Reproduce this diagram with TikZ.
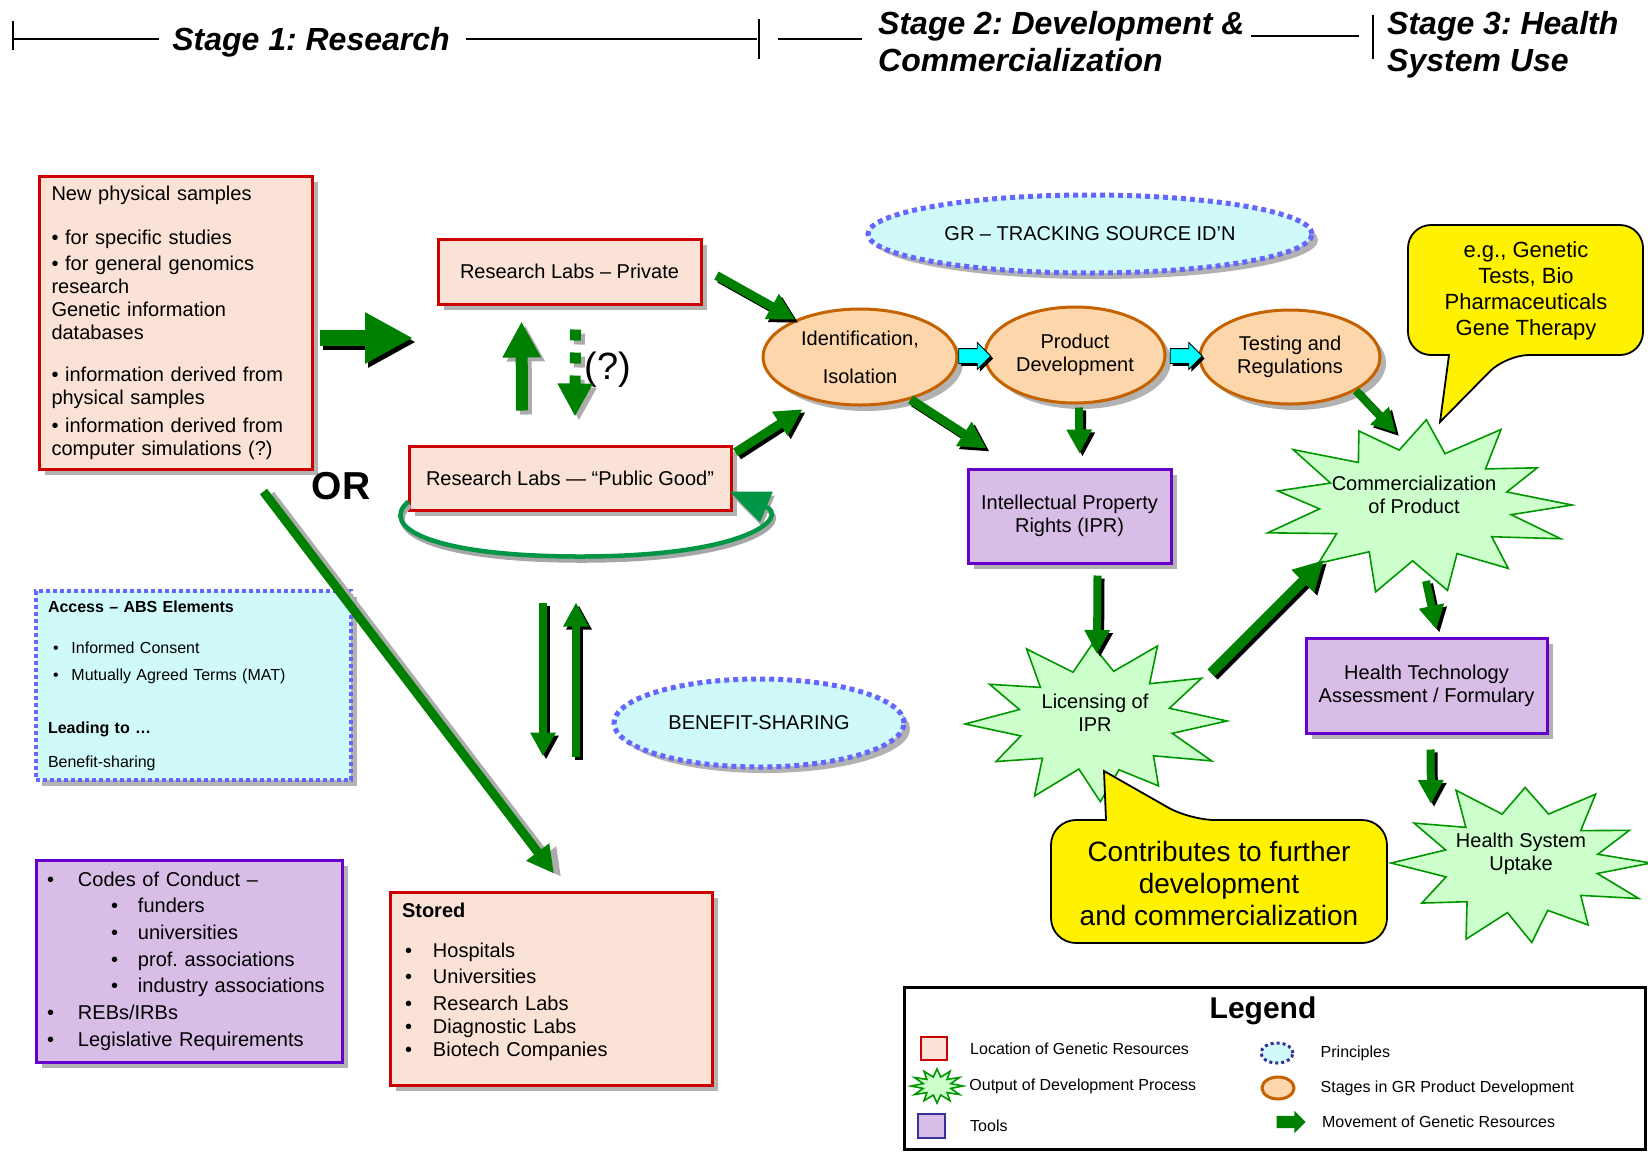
\documentclass[tikz,border=0pt]{standalone}
\usepackage{fontspec}
\setmainfont{Liberation Sans}
\usetikzlibrary{arrows.meta,calc,positioning,shapes.geometric,shapes.arrows,shadows}
\frenchspacing

\definecolor{locred}{RGB}{204,0,0}
\definecolor{locfill}{RGB}{250,226,214}
\definecolor{toolline}{RGB}{102,0,204}
\definecolor{toolfill}{RGB}{216,190,230}
\definecolor{princline}{RGB}{102,102,255}
\definecolor{princfill}{RGB}{208,250,250}
\definecolor{stageline}{RGB}{196,98,0}
\definecolor{stagefill}{RGB}{253,214,172}
\definecolor{burstline}{RGB}{0,150,0}
\definecolor{burstfill}{RGB}{204,255,204}
\definecolor{movegreen}{RGB}{0,128,0}
\definecolor{loopgreen}{RGB}{0,150,70}
\definecolor{legblue}{RGB}{51,51,153}
\definecolor{arrowcyan}{RGB}{0,255,255}

\newcommand{\fsize}[2]{\fontsize{#1}{#2}\selectfont}
\newcommand{\bul}[2]{\hspace*{#1}\makebox[#2][l]{\textbullet}}
% star outline round a centre: rx, ry, angle/fraction list
\newcommand{\outburst}[4]{%
  \draw[burst] ($(#1)+(0:{#2*1pt} and {#3*1pt})$)
    \foreach \a/\f in {#4}{ -- ($(#1)+(\a:{(#2*\f)*1pt} and {(#3*\f)*1pt})$)} -- cycle;}
% arrow with its shadow: style, shadow colour, x shift, y shift, path
\newcommand{\mvdraw}[5]{%
  \begin{scope}[transform canvas={shift={(#3,#4)}}]\draw[#1,draw=#2] #5;\end{scope}
  \draw[#1] #5;}

\tikzset{
  boxshadow/.style={drop shadow={shadow xshift=6pt,shadow yshift=-6pt,fill=gray!60,opacity=1}},
  locbox/.style={draw=locred,fill=locfill,line width=3pt,boxshadow,inner sep=0pt,font=\fsize{20}{23}},
  toolbox/.style={draw=toolline,fill=toolfill,line width=3pt,boxshadow,inner sep=0pt,font=\fsize{20}{23}},
  stagebox/.style={ellipse,draw=stageline,fill=stagefill,line width=3pt,boxshadow,align=center,inner sep=0pt,font=\fsize{20}{23}},
  princbox/.style={draw=princline,fill=princfill,line width=5pt,dash pattern=on 5pt off 4pt,boxshadow,inner sep=0pt,font=\fsize{20}{23}},
  burst/.style={draw=burstline,fill=burstfill,line width=1.6pt},
  bursttext/.style={align=center,inner sep=0pt,font=\fsize{20}{23}},
  grmove/.style={draw=movegreen,line width=#1,-{Triangle[length=0pt 3,width=0pt 3]}},
  cyanmove/.style={single arrow,draw=black,fill=arrowcyan,line width=0.8pt,inner xsep=0pt,inner ysep=7pt,
    single arrow head extend=6pt,minimum height=32pt,
    drop shadow={shadow xshift=2.5pt,shadow yshift=-2.5pt,fill=black,opacity=1}},
  headtext/.style={font=\fsize{32}{37}\bfseries\itshape,inner sep=0pt},
  rule/.style={line width=1.5pt},
  note/.style={draw=black,fill=yellow,line width=1.8pt},
  legtext/.style={font=\fsize{16}{19},inner sep=0pt,anchor=west},
}

\begin{document}
\begin{tikzpicture}[x=1pt,y=-1pt]
\useasboundingbox (0,0) rectangle (1648,1152);

% stage headings
\coordinate (t1) at (13,39);
\coordinate (t2) at (759,39);
\coordinate (t3) at (1373,37);
\node[headtext] (s1) at (311,42) {Stage 1: Research};
\node[headtext,anchor=north west,align=left] (s2) at (878,11) {Stage 2: Development \&\\Commercialization};
\node[headtext,anchor=north west,align=left] (s3) at (1387,11) {Stage 3: Health\\System Use};
\draw[rule] ($(t1)+(0,-18)$) -- ($(t1)+(0,11)$);
\draw[rule] ($(t2)+(0,-20)$) -- ($(t2)+(0,20)$);
\draw[rule] ($(t3)+(0,-22)$) -- ($(t3)+(0,22)$);
\draw[rule] (t1) -- ($(s1.west |- t1)+(-13,0)$);
\draw[rule] ($(s1.east |- t1)+(16,0)$) -- ($(t2)+(-2,0)$);
\draw[rule] ($(t2)+(19,0)$) -- ($(s2.west |- t2)+(-16,0)$);
\draw[rule] ($(t3)+(-122,-1)$) -- ($(t3)+(-14,-1)$);

% locations of genetic resources
\node[locbox,text width=248pt,inner xsep=12.5pt,minimum height=293pt,align=left] (samples) at (175.5,322.5)
  {New physical samples\\[21pt]
   \textbullet{} for specific studies\\[3pt]
   \textbullet{} for general genomics\\
   research\\
   Genetic information\\
   databases\\[19pt]
   \textbullet{} information derived from\\
   physical samples\\[5pt]
   \textbullet{} information derived from\\
   computer simulations (?)};
\node[locbox,minimum width=263pt,minimum height=65pt] (priv) at (569.5,271.5) {Research Labs – Private};
\node[locbox,minimum width=322pt,minimum height=64pt] (pub) at (570,478) {Research Labs — “Public Good”};
\node[locbox,text width=298pt,inner xsep=12pt,minimum height=193pt,align=left] (stored) at (551,988.5)
  {\textbf{Stored}\\[17pt]
   \bul{3pt}{28pt}Hospitals\\[3pt]
   \bul{3pt}{28pt}Universities\\[4pt]
   \bul{3pt}{28pt}Research Labs\\
   \bul{3pt}{28pt}Diagnostic Labs\\
   \bul{3pt}{28pt}Biotech Companies\\[-5pt]
   \mbox{}};
\node[font=\fsize{39}{44}\bfseries,inner sep=0pt] (or) at (341,486) {OR};
\node[font=\fsize{38}{44},inner sep=0pt] (unsure) at (608,370) {(?)};

% principles
\node[princbox,line width=4pt,dash pattern=on 4pt off 3pt,text width=291pt,inner xsep=12pt,
  minimum height=189pt,align=left,font=\fsize{16}{19}] (access) at (193.5,685.5)
  {\textbf{Access – ABS Elements}\\[22pt]
   \bul{5pt}{18.5pt}Informed Consent\\[8pt]
   \bul{5pt}{18.5pt}Mutually Agreed Terms (MAT)\\[34pt]
   \textbf{Leading to …}\\[15pt]
   Benefit-sharing};
\node[princbox,ellipse,minimum width=444pt,minimum height=78pt] (track) at (1090,234) {GR – TRACKING SOURCE ID’N};
\node[princbox,ellipse,minimum width=290pt,minimum height=88pt] (benefit) at (759,723) {BENEFIT-SHARING};

% tools
\node[toolbox,text width=284pt,inner xsep=11pt,minimum height=202pt,align=left,font=\fsize{20}{26.7}] (codes) at (189,961)
  {\bul{0pt}{31pt}Codes of Conduct –\\
   \bul{64pt}{27pt}funders\\
   \bul{64pt}{27pt}universities\\
   \bul{64pt}{27pt}prof. associations\\
   \bul{64pt}{27pt}industry associations\\
   \bul{0pt}{31pt}REBs/IRBs\\
   \bul{0pt}{31pt}Legislative Requirements};
\node[toolbox,minimum width=203pt,minimum height=94pt,align=center] (ipr) at (1069.5,516) {Intellectual Property\\Rights (IPR)};
\node[toolbox,minimum width=241pt,minimum height=95pt,align=center] (hta) at (1426.5,685.5) {Health Technology\\Assessment / Formulary};

% stages in product development
\node[stagebox,minimum width=194pt,minimum height=96pt] (ident) at (860,357) {Identification,\\[15pt]Isolation};
\node[stagebox,minimum width=180pt,minimum height=96pt] (prod) at (1075,355) {Product\\Development};
\node[stagebox,minimum width=180pt,minimum height=94pt] (test) at (1290,357) {Testing and\\Regulations};
\node[cyanmove] (c1) at ($(ident.east)!0.5!(prod.west)$) {};
\node[cyanmove] (c2) at ($(prod.east)!0.5!(test.west)$) {};

% outputs
\coordinate (commc) at (1416,505);
\coordinate (licc) at (1096,721);
\coordinate (hsuc) at (1521,863);
\outburst{commc}{156}{90}{14/.6,28/.88,42/.6,57/1,72/.6,86/.95,100/.62,114/.9,128/.6,142/1,156/.6,170/.9,184/.62,198/1,212/.6,226/.9,240/.6,255/1,268/.62,282/.97,296/.6,310/.92,324/.6,338/1,350/.62}
\outburst{licc}{131}{85}{15/.58,32/.95,47/.6,62/1,77/.6,92/.9,107/.6,122/1,137/.58,152/.92,167/.6,182/1,197/.6,212/.9,227/.6,242/1,257/.58,272/.95,287/.6,302/.9,317/.6,332/1,346/.6}
\outburst{hsuc}{130}{84}{10/.6,25/.92,40/.6,55/1,70/.62,88/.9,104/.6,120/1,135/.6,150/.95,165/.6,180/1,196/.6,212/.9,228/.62,245/1,260/.6,275/.95,290/.6,305/.9,320/.6,335/1,348/.6}
\node[bursttext] (comm) at ($(commc)+(-2,-10)$) {Commercialization\\of Product};
\node[bursttext] (lic) at ($(licc)+(-1,-8)$) {Licensing of\\IPR};
\node[bursttext] (hsu) at ($(hsuc)+(0,-9)$) {Health System\\Uptake};

% call-outs
\draw[note] (1449,355) [rounded corners=23pt] -- (1408,355) -- (1408,225) -- (1643,225) -- (1643,355) -- (1506,355) [sharp corners] -- (1440,422) -- cycle;
\node[font=\fsize{22}{26},align=center,inner sep=0pt] (examples) at (1526,291) {e.g., Genetic\\Tests, Bio\\Pharmaceuticals\\Gene Therapy};
\draw[note] (1106,820) [rounded corners=25pt] -- (1051,820) -- (1051,943) -- (1387,943) -- (1387,820) -- (1190,820) [sharp corners] -- (1104,771) -- cycle;
\node[font=\fsize{28}{32},align=center,inner sep=0pt] (further) at (1219,883) {Contributes to further\\development\\and commercialization};

% movement of genetic resources
\coordinate (fork) at (413,338);
\mvdraw{grmove=16pt}{black}{3pt}{-4pt}{($(samples.east |- fork)+(6,0)$) -- (fork)}
\mvdraw{grmove=12pt}{gray!65}{4pt}{-4pt}{($(pub.north)+(-48,-34)$) -- ($(priv.south)+(-48,16)$)}
\mvdraw{grmove=11pt,dash pattern=on 11pt off 12pt}{gray!65}{4pt}{-4pt}{($(priv.south)+(6,24)$) -- ($(pub.north)+(5,-28)$)}
\mvdraw{grmove=9pt}{black}{3pt}{-3pt}{($(priv.east)+(14,4)$) -- (ident.150)}
\mvdraw{grmove=9pt}{black}{3pt}{-3pt}{($(pub.north east)+(3,8)$) -- ($(ident.215)+(0,12)$)}
\mvdraw{loopgreen,line width=4.5pt,-{Triangle[length=40pt,width=32pt]}}{gray!70}{2pt}{-4pt}
  {($(pub.south west)+(1,-10)$) .. controls +(-30,25) and +(-150,0) .. ($(pub.south)+(10,45)$)
  .. controls +(170,0) and +(60,25) .. ($(pub.south east)+(-3,-20)$)}
\mvdraw{grmove=8pt}{black}{3pt}{-3pt}{($(pub.south)+(-27,91)$) -- ($(pub.south)+(-27,245)$)}
\mvdraw{grmove=8pt}{black}{3pt}{-3pt}{($(pub.south)+(6,245)$) -- ($(pub.south)+(6,91)$)}
\mvdraw{grmove=9pt}{gray!65}{7pt}{-3pt}{($(samples.south)+(88,21)$) -- ($(stored.north)+(3,-17)$)}
\mvdraw{grmove=9pt}{black}{3pt}{-3pt}{(ident.320) -- ($(ipr.north west)+(20,-19)$)}
\mvdraw{grmove=8pt}{black}{3pt}{-3pt}{($(prod.south)+(4,3)$) -- ($(ipr.north)+(10,-14)$)}
\mvdraw{grmove=8pt}{black}{3pt}{-3pt}{(test.333) -- ($(commc)+(-20,-72)$)}
\mvdraw{grmove=8pt}{black}{3pt}{-3pt}{($(ipr.south)+(28,11)$) -- ($(licc)+(1,-67)$)}
\mvdraw{grmove=10pt}{black}{3pt}{-3pt}{($(licc)+(115,-48)$) -- ($(commc)+(-92,55)$)}
\mvdraw{grmove=8pt}{black}{3pt}{-3pt}{($(commc)+(10,76)$) -- ($(hta.north)+(10,-7)$)}
\mvdraw{grmove=8pt}{black}{3pt}{-3pt}{($(hta.south)+(4,15)$) -- ($(hsuc)+(-90,-59)$)}

% legend
\node[draw,line width=3pt,minimum width=741pt,minimum height=162pt] (legend) at (1274.5,1068) {};
\node[font=\fsize{30}{34}\bfseries,inner sep=0pt] (legtitle) at (1263,1011) {Legend};
\node[draw=locred,fill=locfill,line width=2pt,minimum width=26pt,minimum height=23pt,inner sep=0pt] (lgloc) at (934,1048.5) {};
\coordinate (lgoutc) at (937,1086);
\outburst{lgoutc}{26}{17}{15/.55,30/1,45/.55,60/1,75/.55,90/1,105/.55,120/1,135/.55,150/1,165/.55,180/1,195/.55,210/1,225/.55,240/1,255/.55,270/1,285/.55,300/1,315/.55,330/1,345/.55}
\node[inner sep=0pt,minimum width=52pt,minimum height=34pt] (lgout) at (lgoutc) {};
\node[draw=legblue,fill=toolfill,line width=2pt,minimum width=27pt,minimum height=24pt,inner sep=0pt] (lgtool) at (931.5,1126) {};
\node[ellipse,draw=legblue,fill=princfill,line width=3pt,dash pattern=on 3pt off 3pt,minimum width=32pt,minimum height=20pt,inner sep=0pt] (lgprinc) at (1277,1053) {};
\node[ellipse,draw=stageline,fill=stagefill,line width=3pt,minimum width=32pt,minimum height=22pt,inner sep=0pt] (lgstage) at (1278,1088) {};
\node[single arrow,fill=movegreen,inner xsep=0pt,inner ysep=6pt,single arrow head extend=5pt,minimum height=29pt] (lgmove) at (1288,1122) {};
\node[legtext,right=22pt of lgloc] (lglocname) {Location of Genetic Resources};
\node[legtext,right=6pt of lgout] (lgoutname) {Output of Development Process};
\node[legtext,right=24pt of lgtool] (lgtoolname) {Tools};
\node[legtext,right=26pt of lgprinc] (lgprincname) {Principles};
\node[legtext,right=25pt of lgstage] (lgstagename) {Stages in GR Product Development};
\node[legtext,right=16pt of lgmove] (lgmovename) {Movement of Genetic Resources};
\end{tikzpicture}
\end{document}
